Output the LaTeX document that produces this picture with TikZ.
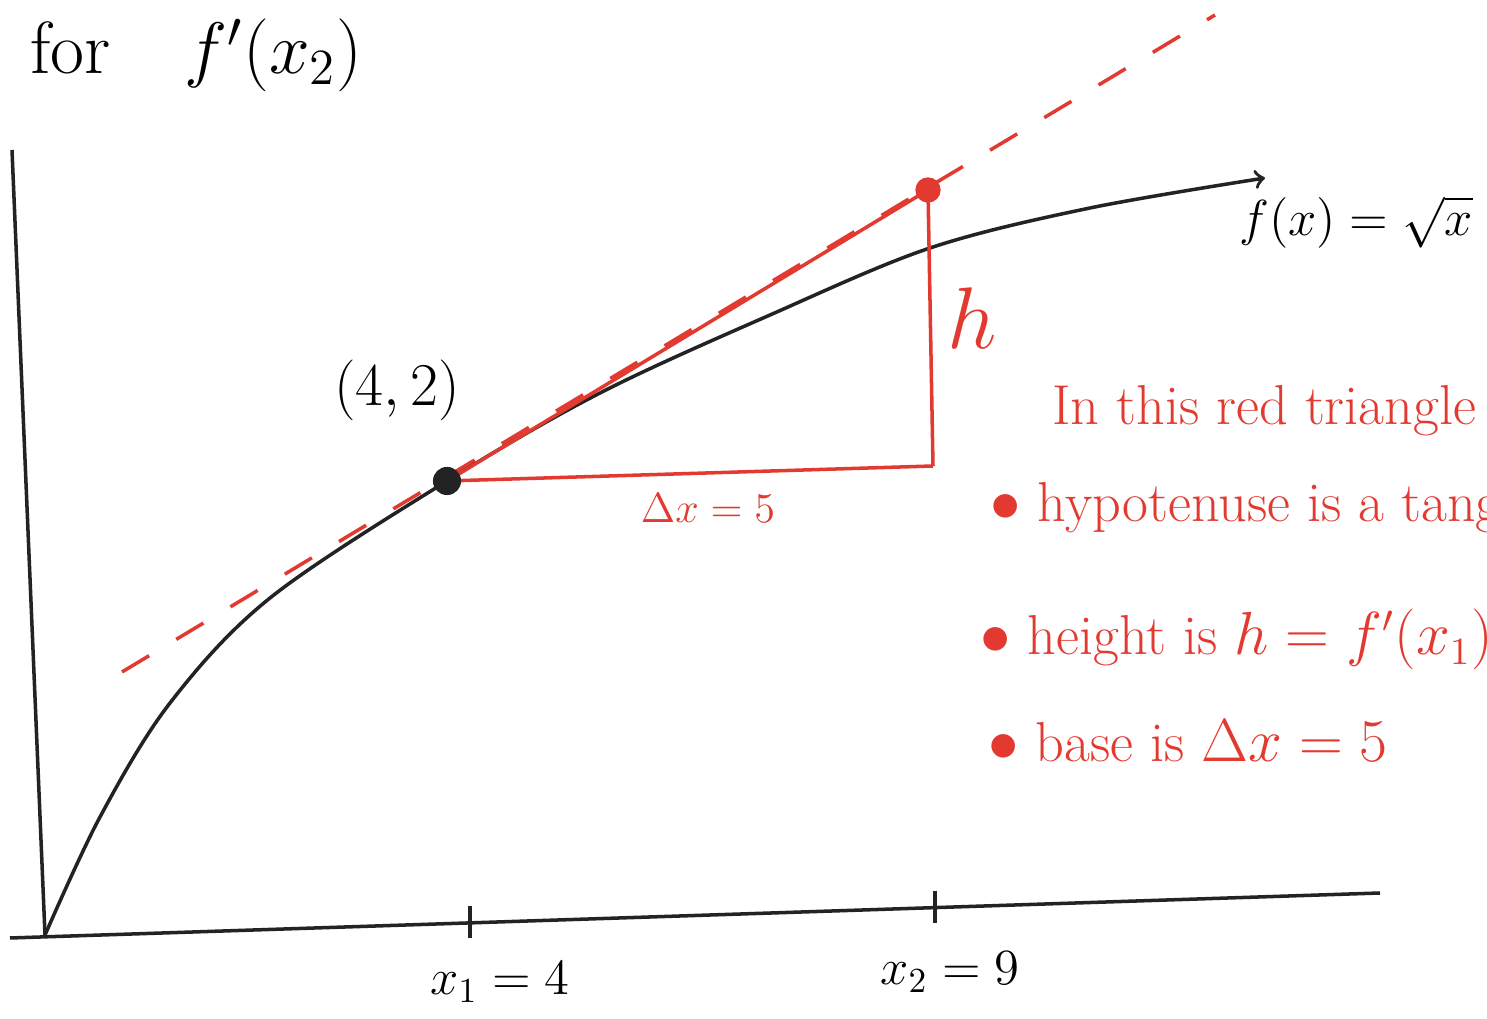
\documentclass[tikz,border=0pt]{standalone}
\definecolor{penred}{RGB}{226,58,48}
\definecolor{penblack}{RGB}{35,35,35}
\tikzset{
  ink/.style={line width=1pt, color=penblack},
  redink/.style={line width=1pt, color=penred},
  note/.style={anchor=base west, text=penred, font=\fontsize{16}{19}\selectfont},
}
\begin{document}
\begin{tikzpicture}[x=0.01cm, y=-0.01cm]
  \useasboundingbox (0,0) rectangle (1487,1019);
  \clip (0,0) rectangle (1487,1019);
  % axes
  \coordinate (O) at (45,935);
  \coordinate (Ytop) at (12,150);
  \coordinate (Xleft) at (10,938);
  \coordinate (Xright) at (1380,893);
  \coordinate (TickA) at (470,922);
  \coordinate (TickB) at (935,907);
  \draw[ink] (Ytop) -- (O);
  \draw[ink] (Xleft) -- (Xright);
  \draw[ink] ([yshift=0.16cm]TickA) -- ([yshift=-0.16cm]TickA);
  \draw[ink] ([yshift=0.16cm]TickB) -- ([yshift=-0.16cm]TickB);
  \node[font=\fontsize{14}{16}\selectfont] (xone) at (500,982) {$x_1 = 4$};
  \node[font=\fontsize{14}{16}\selectfont] (xtwo) at (950,972) {$x_2 = 9$};
  % curve and triangle
  \coordinate (P) at (447,481);
  \coordinate (Q) at (928,190);
  \coordinate (R) at (933,466);
  \coordinate (T1) at (122,672);
  \coordinate (T2) at (1215,15);
  \coordinate (E) at (1265,178);
  \draw[redink, dashed, dash pattern=on 9pt off 9pt] (T1) -- (T2);
  \draw[ink, ->] plot[smooth, tension=0.55] coordinates {(O) (100,817) (170,703) (270,598) (P) (600,393) (770,315) (930,248) (1090,208) (E)};
  \draw[redink] (P) -- (Q);
  \draw[redink] (Q) -- (R);
  \draw[redink] (R) -- (P);
  \fill[penblack] (P) circle (4pt);
  \fill[penred] (Q) circle (3.6pt);
  \node[font=\fontsize{18}{21}\selectfont] (ptlabel) at (397,390) {$(4,2)$};
  \node[text=penred, font=\fontsize{24}{28}\selectfont] (hlabel) at (972,318) {$h$};
  \node[text=penred, font=\fontsize{13}{15}\selectfont] (dxlabel) at (708,508) {$\Delta x = 5$};
  \node[font=\fontsize{15}{18}\selectfont] (flabel) at (1356,222) {$f(x) = \sqrt{x}$};
  \node[anchor=base west, font=\fontsize{21}{25}\selectfont] (title) at (18,74) {for\quad $f'(x_2)$};
  % red notes
  \node[note] (line0) at (1040,425) {In this red triangle};
  \node[note] (line1) at (978,522) {$\bullet$ hypotenuse is a tangent};
  \node[note] (line2) at (968,655) {$\bullet$ height is $h = f'(x_1)$};
  \node[note] (line3) at (976,762) {$\bullet$ base is $\Delta x = 5$};
\end{tikzpicture}
\end{document}
